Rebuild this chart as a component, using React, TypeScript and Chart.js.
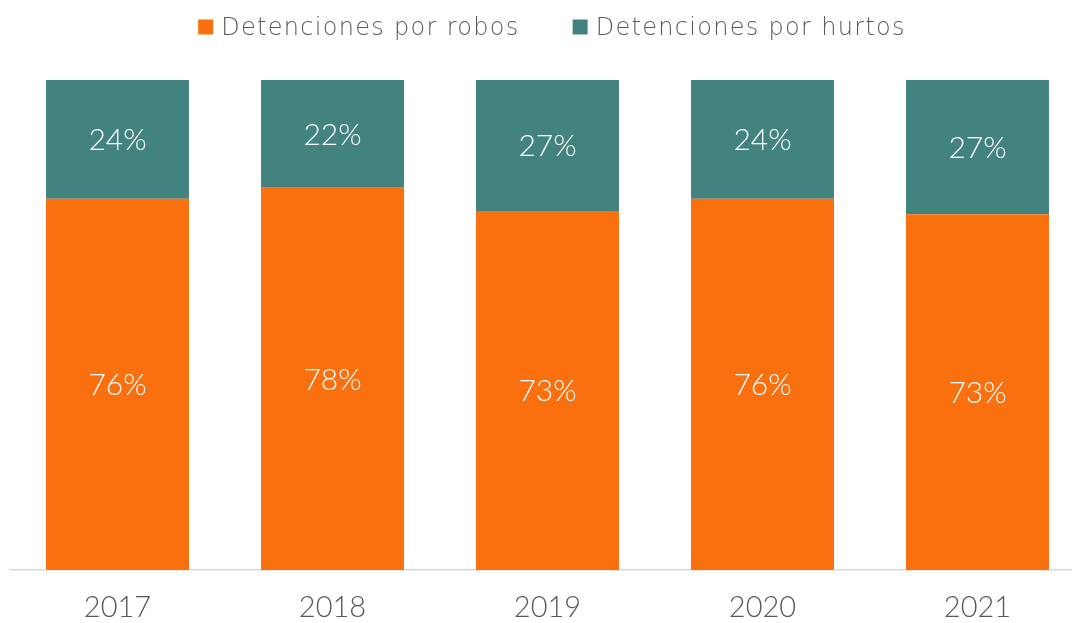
import React, { useEffect, useRef } from "react";
import { Chart, registerables } from "chart.js";

Chart.register(...registerables);

const years = ["2017", "2018", "2019", "2020", "2021"];
const robos = [75.8, 78.0, 73.3, 75.8, 72.6];
const hurtos = [24.2, 22.0, 26.7, 24.2, 27.4];
const seriesNames = ["Detenciones por robos", "Detenciones por hurtos"];
const colors = ["#FA700F", "#43837F"];

const FONT = "Lato";
const LEGEND_FONT = "'DejaVu Sans'";
const TEXT_GRAY = "#595959";

const valueLabels = {
  id: "valueLabels",
  afterDatasetsDraw(chart: any) {
    const ctx = chart.ctx;
    ctx.save();
    ctx.fillStyle = "#ffffff";
    ctx.font = `300 30px ${FONT}`;
    ctx.textAlign = "center";
    ctx.textBaseline = "middle";
    chart.data.datasets.forEach((ds: any, di: number) => {
      const meta = chart.getDatasetMeta(di);
      meta.data.forEach((el: any, i: number) => {
        const v = ds.data[i];
        const cy = (el.y + el.base) / 2;
        ctx.fillText(`${Math.round(v)}%`, el.x, cy + 1);
      });
    });
    ctx.restore();
  },
};

const customLegend = {
  id: "customLegend",
  afterDraw(chart: any) {
    const ctx = chart.ctx;
    ctx.save();
    ctx.font = `200 24px ${LEGEND_FONT}`;
    try {
      (ctx as any).letterSpacing = "1.3px";
    } catch (e) {}
    ctx.textBaseline = "middle";
    ctx.textAlign = "left";
    const box = 15;
    const gap = 8;
    const spacing = 53;
    const items = chart.data.datasets.map((ds: any) => ({
      text: ds.label,
      color: ds.backgroundColor,
      w: ctx.measureText(ds.label).width,
    }));
    let total = 0;
    items.forEach((it: any, i: number) => {
      total += box + gap + it.w + (i > 0 ? spacing : 0);
    });
    const center = 552;
    let x = center - total / 2;
    const cy = 27;
    items.forEach((it: any) => {
      ctx.fillStyle = it.color;
      ctx.fillRect(x, cy - box / 2, box, box);
      x += box + gap;
      ctx.fillStyle = TEXT_GRAY;
      ctx.fillText(it.text, x, cy + 1.5);
      x += it.w + spacing;
    });
    ctx.restore();
  },
};

export default function App() {
  const ref = useRef<HTMLCanvasElement>(null);
  useEffect(() => {
    if (!ref.current) return;
    const chart = new Chart(ref.current, {
      type: "bar",
      data: {
        labels: years,
        datasets: [
          { label: seriesNames[0], data: robos, backgroundColor: colors[0], borderWidth: 0 },
          { label: seriesNames[1], data: hurtos, backgroundColor: colors[1], borderWidth: 0 },
        ],
      },
      options: {
        responsive: false,
        animation: false,
        devicePixelRatio: 1,
        layout: { padding: { top: 80, left: 10, right: 18, bottom: 0 } },
        datasets: {
          bar: { categoryPercentage: 1, barPercentage: 0.665 },
        },
        plugins: {
          legend: { display: false },
          tooltip: { enabled: false },
        },
        scales: {
          x: {
            stacked: true,
            grid: { display: false, drawTicks: false },
            border: { display: true, color: "#D9D9D9", width: 1.5 },
            ticks: {
              color: TEXT_GRAY,
              font: { family: FONT, size: 29, weight: "300" },
              padding: 20,
            },
          },
          y: {
            stacked: true,
            display: false,
            min: 0,
            max: 100,
          },
        },
      },
      plugins: [valueLabels, customLegend],
    });
    return () => chart.destroy();
  }, []);
  return (
    <div
      style={{
        position: "fixed",
        left: 0,
        top: 0,
        width: 1072,
        height: 623,
        overflow: "hidden",
        background: "#fff",
      }}
    >
      <canvas ref={ref} width={1103} height={645} style={{ display: "block" }} />
    </div>
  );
}
